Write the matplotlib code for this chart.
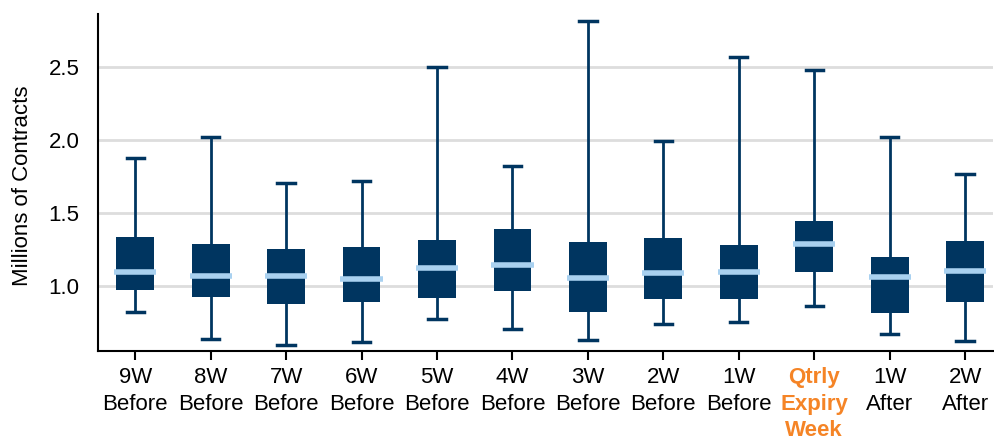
import matplotlib
matplotlib.use('Agg')
import matplotlib.pyplot as plt

# weekly contract volume stats (millions)
labels = ['9W\nBefore', '8W\nBefore', '7W\nBefore', '6W\nBefore', '5W\nBefore',
          '4W\nBefore', '3W\nBefore', '2W\nBefore', '1W\nBefore',
          'Qtrly\nExpiry\nWeek', '1W\nAfter', '2W\nAfter']
whislo = [0.817, 0.635, 0.594, 0.612, 0.769, 0.701, 0.628, 0.737, 0.749, 0.858, 0.667, 0.619]
q1 = [0.973, 0.925, 0.877, 0.888, 0.918, 0.966, 0.820, 0.911, 0.911, 1.096, 0.815, 0.890]
med = [1.096, 1.064, 1.068, 1.048, 1.121, 1.139, 1.050, 1.089, 1.096, 1.283, 1.062, 1.100]
q3 = [1.333, 1.283, 1.251, 1.265, 1.313, 1.388, 1.299, 1.326, 1.279, 1.443, 1.196, 1.306]
whishi = [1.877, 2.018, 1.705, 1.719, 2.500, 1.822, 2.815, 1.989, 2.566, 2.475, 2.021, 1.763]

NAVY = '#003560'
LIGHT = '#a9d1f0'
ORANGE = '#f58426'

plt.rcParams['font.family'] = ['Liberation Sans', 'DejaVu Sans']

stats = []
for i in range(len(labels)):
    stats.append({'whislo': whislo[i], 'q1': q1[i], 'med': med[i],
                  'q3': q3[i], 'whishi': whishi[i], 'fliers': []})

fig = plt.figure(figsize=(9.95, 4.36), dpi=100)
ax = fig.add_axes([0.098, 0.195, 0.90, 0.773])

ax.bxp(stats, positions=range(len(labels)), widths=0.5, patch_artist=True,
       showfliers=False,
       boxprops=dict(facecolor=NAVY, edgecolor=NAVY, linewidth=0),
       whiskerprops=dict(color=NAVY, linewidth=2),
       capprops=dict(color=NAVY, linewidth=2.5),
       medianprops=dict(color=LIGHT, linewidth=4, solid_capstyle='butt'),
       capwidths=0.23, zorder=3)

# widen median lines a bit past the box
for ln in ax.lines:
    if ln.get_color() == LIGHT:
        x = ln.get_xdata()
        c = (x[0] + x[1]) / 2
        ln.set_xdata([c - 0.28, c + 0.28])

ax.set_xlim(-0.5, 11.37)
ax.set_ylim(0.5525, 2.861)
ax.set_yticks([1.0, 1.5, 2.0, 2.5])
ax.set_yticklabels(['1.0', '1.5', '2.0', '2.5'])
ax.set_xticks(range(len(labels)))
ax.set_xticklabels(labels, linespacing=1.35)
ax.tick_params(axis='y', length=0, labelsize=16, pad=13)
ax.tick_params(axis='x', length=6.5, width=1.5, labelsize=16, pad=5)
for t in ax.get_xticklabels():
    if t.get_text().startswith('Qtrly'):
        t.set_color(ORANGE)
        t.set_fontweight('bold')

ax.yaxis.grid(True, color='#dddddd', linewidth=2, zorder=0)
ax.set_axisbelow(True)
ax.spines['top'].set_visible(False)
ax.spines['right'].set_visible(False)
ax.spines['left'].set_linewidth(1.5)
ax.spines['bottom'].set_linewidth(1.5)
ax.set_ylabel('Millions of Contracts', fontsize=16)
ax.yaxis.set_label_coords(-0.072, 0.49)

fig.savefig('out.png', dpi=100)
plt.close(fig)
